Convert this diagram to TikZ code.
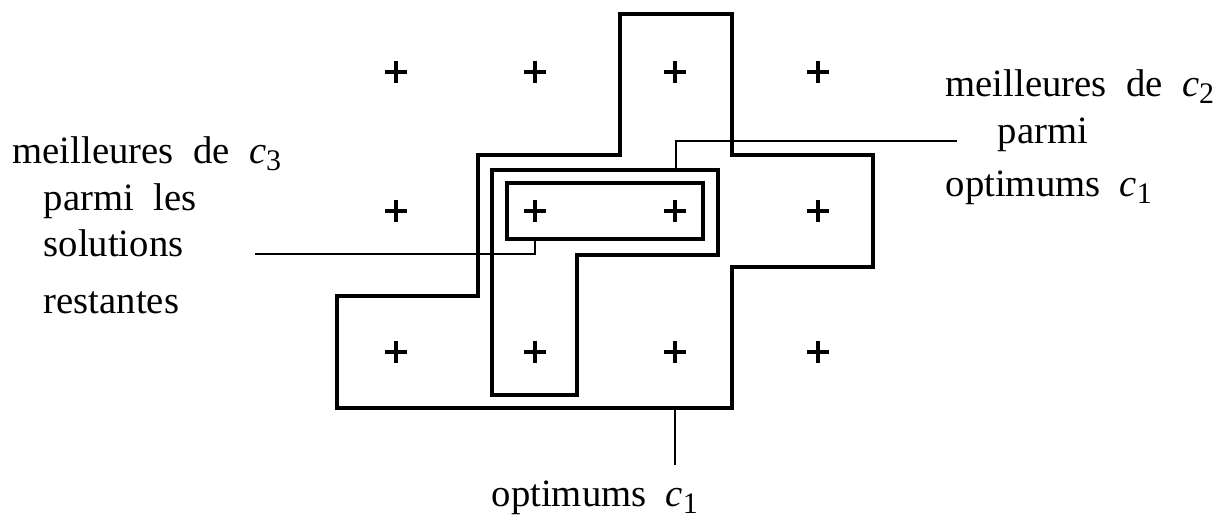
\documentclass[tikz,border=0pt]{standalone}
\usepackage{fontspec}
\setmainfont{Liberation Serif}
\usetikzlibrary{positioning}

\newcommand{\lblfont}{\fontsize{11}{13}\selectfont\spaceskip=0.5em\relax}
\newcommand{\critc}[1]{\textit{c}\raisebox{-0.4ex}{\fontsize{8.5}{9}\selectfont #1}}

\begin{document}
\begin{tikzpicture}[x=0.01cm, y=-0.01cm,
	zone/.style={draw=black, line width=0.9pt, line join=miter},
	lead/.style={draw=black, line width=0.4pt},
	lbl/.style={inner sep=0pt, anchor=base west, font=\lblfont},
	cross/.style={line width=1pt}]

	\useasboundingbox (0,0) rectangle (1228,517);

	% Solutions
	\foreach \x in {396,535,675,818}
		\foreach \y in {72,211,352}
			\draw[cross] (\x-11,\y) -- (\x+11,\y) (\x,\y-11) -- (\x,\y+11);

	% Zones
	\draw[zone] (620,14) -- (732,14) -- (732,155) -- (873,155) -- (873,267) -- (732,267) -- (732,408) -- (337,408) -- (337,296) -- (478,296) -- (478,155) -- (620,155) -- cycle;
	\draw[zone] (492,170) -- (718,170) -- (718,255) -- (577,255) -- (577,395) -- (492,395) -- cycle;
	\draw[zone] (507,183) rectangle (703,239);

	% Labels
	\node[lbl] (c3a) at (12,163) {meilleures de \critc{3}};
	\node[lbl] (c3b) at (43,210) {parmi les};
	\node[lbl] (c3c) at (43,256) {solutions};
	\node[lbl] (c3d) at (43,313) {restantes};
	\node[lbl] (c2a) at (945,96) {meilleures de \critc{2}};
	\node[lbl] (c2b) at (997,143) {parmi};
	\node[lbl] (c2c) at (945,196) {optimums \critc{1}};
	\node[lbl] (c1a) at (491,506) {optimums \critc{1}};

	% Leaders
	\coordinate (c3pin) at (535,239);
	\coordinate (c3end) at (255,254);
	\coordinate (c2pin) at (676,170);
	\coordinate (c2end) at (957,141);
	\coordinate (c1pin) at (675,408);
	\coordinate (c1end) at (675,465);
	\draw[lead] (c3pin) |- (c3end);
	\draw[lead] (c2pin) |- (c2end);
	\draw[lead] (c1pin) -- (c1end);
\end{tikzpicture}
\end{document}
